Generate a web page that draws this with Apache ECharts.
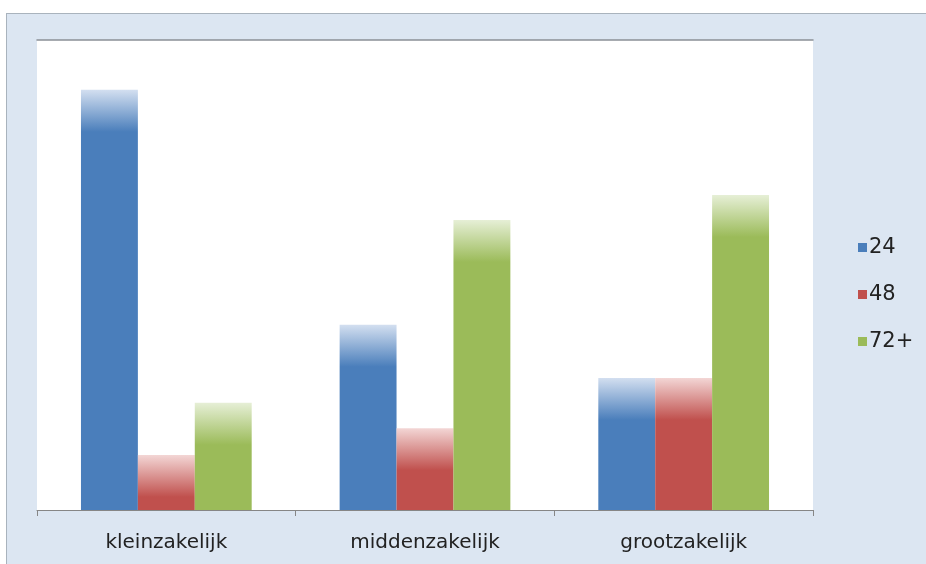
<!DOCTYPE html>
<html>
<head>
<meta charset="utf-8">
<script src="https://cdn.jsdelivr.net/npm/echarts@6/dist/echarts.min.js"></script>
<style>
html,body{margin:0;padding:0;background:#ffffff;width:926px;height:564px;overflow:hidden;}
#frame{position:absolute;left:6px;top:13px;width:930px;height:560px;background:#dce6f2;border:1px solid #a9b3bd;box-sizing:border-box;}
#chart{position:absolute;left:0;top:0;width:926px;height:564px;}
</style>
</head>
<body>
<div id="frame"></div>
<div id="chart"></div>
<script>
var categories = ['kleinzakelijk', 'middenzakelijk', 'grootzakelijk'];
var seriesNames = ['24', '48', '72+'];
var values24 = [89.4, 39.4, 28.1];
var values48 = [11.7, 17.4, 28.1];
var values72 = [22.8, 61.7, 67.0];

var colors = ['#4a7ebb', '#c0504d', '#9bbb59'];
var lightColors = ['#d3dff0', '#f3d6d5', '#e6efd6'];
var plotTop = 40, plotBottom = 54, H = 564;
var plotH = H - plotTop - plotBottom;
var yMax = 100;
var fadePx = 42;

function items(vals, idx) {
  return vals.map(function (v) {
    var hpx = v / yMax * plotH;
    var f = Math.min(0.95, fadePx / hpx);
    return {
      value: v,
      itemStyle: {
        color: new echarts.graphic.LinearGradient(0, 0, 0, 1, [
          { offset: 0, color: lightColors[idx] },
          { offset: f, color: colors[idx] },
          { offset: 1, color: colors[idx] }
        ])
      }
    };
  });
}

var chart = echarts.init(document.getElementById('chart'));
chart.setOption({
  backgroundColor: 'transparent',
  animation: false,
  grid: { left: 37, right: 113, top: plotTop, bottom: plotBottom, show: true, backgroundColor: '#ffffff', borderWidth: 0 },
  legend: {
    orient: 'vertical',
    left: 853,
    top: 232,
    itemWidth: 9,
    itemHeight: 9,
    itemGap: 26,
    icon: 'rect',
    textStyle: { fontFamily: 'DejaVu Sans', fontSize: 21, color: '#222222', padding: [0, 0, 0, -3] },
    data: seriesNames.map(function (n, i) { return { name: n, itemStyle: { color: colors[i] } }; })
  },
  xAxis: [{
    type: 'category',
    data: categories,
    axisLine: { show: true, lineStyle: { color: '#868686', width: 1 } },
    axisTick: { show: true, length: 6, lineStyle: { color: '#868686' } },
    axisLabel: { fontFamily: 'DejaVu Sans', fontSize: 20, color: '#222222', margin: 23 }
  }, {
    type: 'category',
    position: 'top',
    data: categories,
    axisLine: { show: true, lineStyle: { color: '#8a9096', width: 1.5 } },
    axisTick: { show: false },
    axisLabel: { show: false }
  }],
  yAxis: {
    type: 'value',
    min: 0,
    max: yMax,
    show: false,
    splitLine: { show: false }
  },
  series: [
    { name: seriesNames[0], type: 'bar', data: items(values24, 0), barGap: '0%', barCategoryGap: '34%' },
    { name: seriesNames[1], type: 'bar', data: items(values48, 1), barGap: '0%', barCategoryGap: '34%' },
    { name: seriesNames[2], type: 'bar', data: items(values72, 2), barGap: '0%', barCategoryGap: '34%' }
  ]
});
</script>
</body>
</html>
